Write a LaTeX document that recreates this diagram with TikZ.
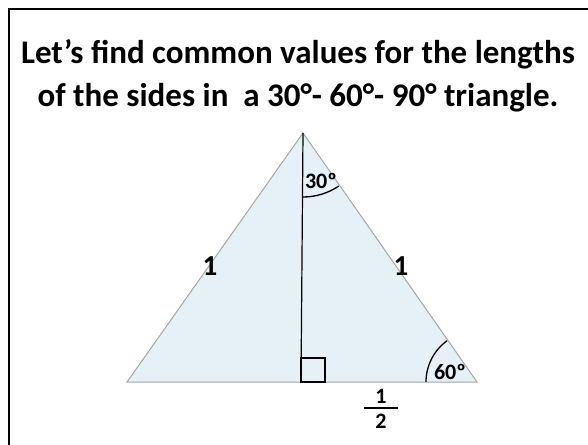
\documentclass[tikz,border=0pt]{standalone}
\usepackage{fontspec}
\setmainfont{Carlito}
\usetikzlibrary{calc,positioning}
\definecolor{paleblue}{RGB}{229,241,246}

\begin{document}
\begin{tikzpicture}[
  x=1pt, y=-1pt,
  frame/.style={line width=2pt},
  side/.style={draw=black!35, line width=1pt, fill=paleblue},
  alt/.style={line width=1.2pt},
  arcline/.style={line width=1.3pt},
  title/.style={font=\fontsize{33}{43}\selectfont\bfseries, align=center},
  len/.style={font=\fontsize{29}{30}\selectfont\bfseries},
  ang/.style={font=\fontsize{22}{22}\selectfont\bfseries, inner sep=0pt}
]
  \useasboundingbox (0,0) rectangle (588,444);
  \draw[frame] (9,460) -- (9,9) -- (600,9);

  \node[title] (head) at (298,76) {Let’s find common values for the lengths\\of the sides in\ \ a 30°- 60°- 90° triangle.};

  \coordinate (A) at (303,133);
  \coordinate (B) at (127,382);
  \coordinate (C) at (477,382);
  \coordinate (F) at (301,382);
  \draw[side] (A) -- (B) -- (C) -- cycle;
  \draw[alt] (A) -- (F);
  \draw[line width=1.2pt] ($(F)+(0,-24)$) -- ++(24,0) -- ++(0,24) -- (F) -- cycle;

  % angle arcs
  \draw[arcline] ($(A)+(90:64)$) arc[start angle=90, end angle=56, radius=64];
  \draw[arcline] ($(C)+(180:51)$) arc[start angle=180, end angle=234, radius=51];

  \node[len] (left) at (210,266) {1};
  \node[len] (right) at (401,266) {1};
  \node[ang] (top) at (321,181) {30º};
  \node[ang] (corner) at (450,372) {60º};
  % one half under the base
  \node[ang] (num) at (381,396) {1};
  \node[ang] (den) at (381,421) {2};
  \coordinate (bar) at ($(num)!0.48!(den)$);
  \draw[line width=2pt] ($(bar)+(-17,0)$) -- ($(bar)+(17,0)$);
\end{tikzpicture}
\end{document}
